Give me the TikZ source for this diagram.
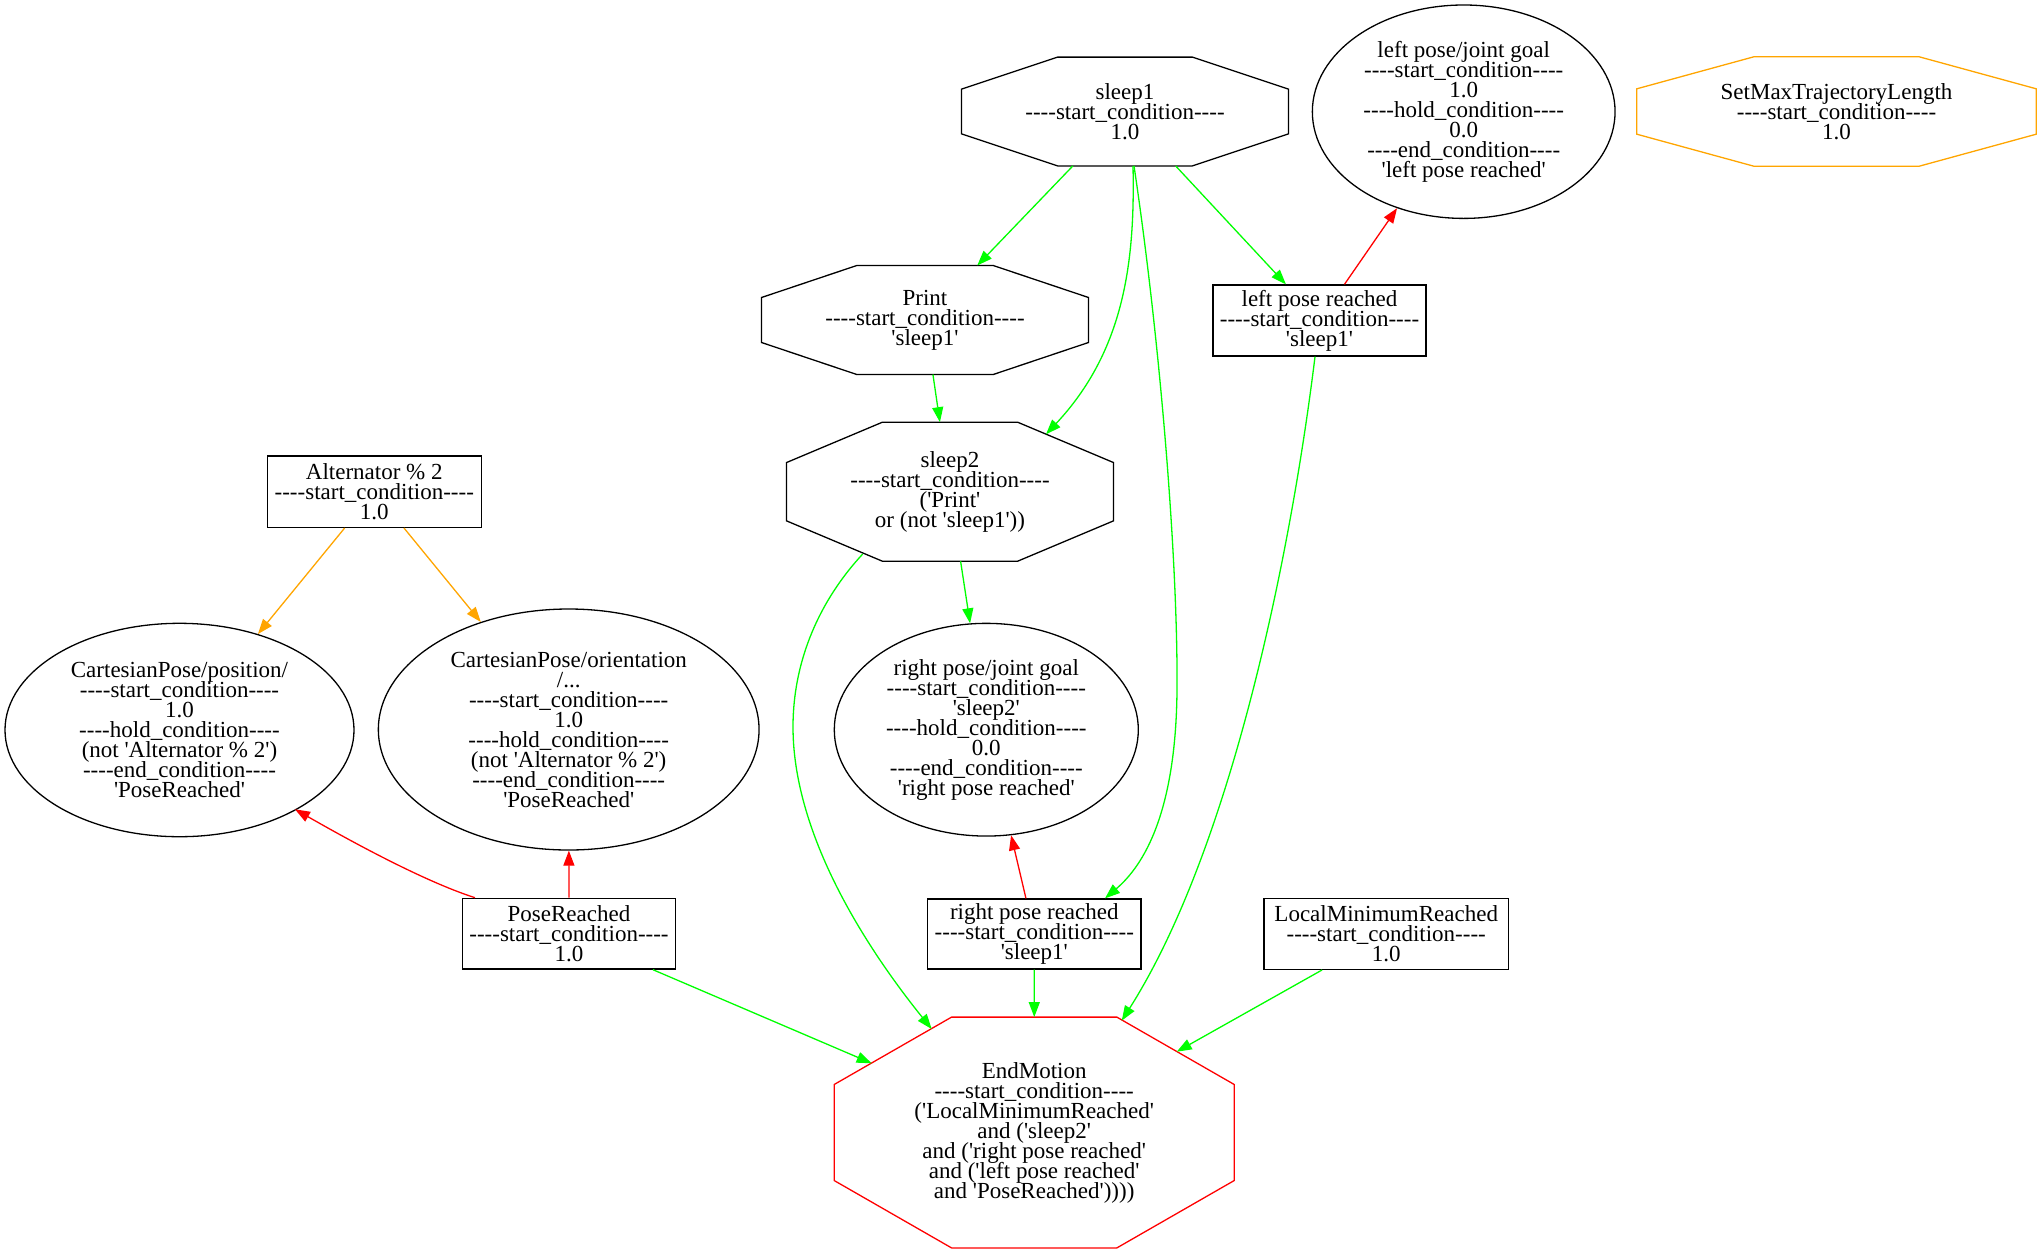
\documentclass[tikz,border=0pt]{standalone}
\usepackage{fontspec}
\setmainfont{Liberation Serif}[Ligatures=TeXOff]
\usetikzlibrary{arrows.meta,calc,shapes.geometric}
\definecolor{gvgreen}{RGB}{0,255,0}
\definecolor{gvred}{RGB}{255,0,0}
\definecolor{gvorange}{RGB}{255,165,0}
\newcommand{\gvfont}{\fontsize{23}{20}\selectfont\lineskiplimit=-100pt\relax}
% octagon outline drawn round a (rectangular) node: name, chamfer x, chamfer y, style
\newcommand{\drawoct}[4]{%
  \draw[#4] ($(#1.north west)+(#2,0)$) -- ($(#1.north east)+(-#2,0)$)
    -- ($(#1.north east)+(0,#3)$) -- ($(#1.south east)+(0,-#3)$)
    -- ($(#1.south east)+(-#2,0)$) -- ($(#1.south west)+(#2,0)$)
    -- ($(#1.south west)+(0,-#3)$) -- ($(#1.north west)+(0,#3)$) -- cycle;}
\begin{document}
\begin{tikzpicture}[x=1pt,y=-1pt,
  every node/.style={font=\gvfont, align=center, inner sep=0pt},
  boxnode/.style={draw, rectangle, line width=1.3pt},
  ellnode/.style={draw, ellipse, line width=1.3pt},
  octnode/.style={rectangle},
  octline/.style={line width=1.3pt, line join=miter},
  edge/.style={line width=1.3pt, -{Triangle[length=15pt,width=11pt]}},
  gr/.style={edge, gvgreen},
  rd/.style={edge, gvred},
  og/.style={edge, gvorange}]
\useasboundingbox (0,0) rectangle (2041,1253);

% ---------- nodes ----------
\node[octnode, minimum width=326.5pt, minimum height=108.4pt] (sleep1) at (1125,111.5)
  {sleep1\\----start\_condition----\\1.0};
\drawoct{sleep1}{96}{32}{octline}

\node[ellnode, minimum width=302.7pt, minimum height=213.4pt] (lgoal) at (1463.7,111.7)
  {left pose/joint goal\\----start\_condition----\\1.0\\----hold\_condition----\\0.0\\----end\_condition----\\'left pose reached'};

\node[octnode, minimum width=399pt, minimum height=109pt] (setmax) at (1836.5,111.5)
  {SetMaxTrajectoryLength\\----start\_condition----\\1.0};
\drawoct{setmax}{117}{32}{octline, gvorange}

\node[octnode, minimum width=326.6pt, minimum height=108.6pt] (print) at (925,320)
  {Print\\----start\_condition----\\'sleep1'};
\drawoct{print}{95.3}{32}{octline}

\node[boxnode, minimum width=213pt, minimum height=71pt] (lpr) at (1319.5,320.5)
  {left pose reached\\----start\_condition----\\'sleep1'};

\node[octnode, minimum width=326.6pt, minimum height=138.7pt] (sleep2) at (950,491.7)
  {sleep2\\----start\_condition----\\('Print'\\or (not 'sleep1'))};
\drawoct{sleep2}{96}{40.4}{octline}

\node[boxnode, minimum width=214pt, minimum height=71.3pt] (alt) at (374.3,491.7)
  {Alternator \% 2\\----start\_condition----\\1.0};

\node[ellnode, minimum width=349pt, minimum height=213.4pt] (cppos) at (179.5,730)
  {CartesianPose/position/\\----start\_condition----\\1.0\\----hold\_condition----\\(not 'Alternator \% 2')\\----end\_condition----\\'PoseReached'};

\node[ellnode, minimum width=380.7pt, minimum height=241pt] (cpori) at (568.7,729.5)
  {CartesianPose/orientation\\/...\\----start\_condition----\\1.0\\----hold\_condition----\\(not 'Alternator \% 2')\\----end\_condition----\\'PoseReached'};

\node[ellnode, minimum width=304pt, minimum height=212.7pt] (rgoal) at (986.3,729.7)
  {right pose/joint goal\\----start\_condition----\\'sleep2'\\----hold\_condition----\\0.0\\----end\_condition----\\'right pose reached'};

\node[boxnode, minimum width=213.3pt, minimum height=70.7pt] (pr) at (569,933.7)
  {PoseReached\\----start\_condition----\\1.0};

\node[boxnode, minimum width=213.3pt, minimum height=70pt] (rpr) at (1034.3,934)
  {right pose reached\\----start\_condition----\\'sleep1'};

\node[boxnode, minimum width=244.3pt, minimum height=71pt] (lmr) at (1386.2,933.8)
  {LocalMinimumReached\\----start\_condition----\\1.0};

\node[octnode, minimum width=399.7pt, minimum height=230.4pt] (endm) at (1034.2,1132.5)
  {EndMotion\\----start\_condition----\\('LocalMinimumReached'\\and ('sleep2'\\and ('right pose reached'\\and ('left pose reached'\\and 'PoseReached'))))};
\drawoct{endm}{117.4}{67.4}{octline, gvred}

% ---------- connectors ----------
\draw[gr] (sleep1) -- (print);
\draw[gr] (sleep1) -- (lpr);
\draw[gr] ($(sleep1.south)+(8,0)$) .. controls (1135,260) and (1125,350) .. ($(sleep2.center)+(96,-57.4)$);
\draw[gr] ($(sleep1.south)+(9,0)$) .. controls (1160,340) and (1178,560) .. (1177,690)
  .. controls (1176,800) and (1150,860) .. ($(rpr.north)+(70.7,0)$);
\draw[rd] (lpr) -- (lgoal);
\draw[gr] (print) -- (sleep2);
\draw[gr] (sleep2) -- (rgoal);
\draw[gr] ($(sleep2.center)+(-87.3,62.3)$) .. controls (820,600) and (793,660) .. (793,727)
  .. controls (793,830) and (860,940) .. ($(endm.center)+(-102.5,-103.5)$);
\draw[rd] (rpr) -- (rgoal);
\draw[gr] (rpr) -- (endm);
\draw[gr] ($(lpr.south)+(-4.5,0)$) .. controls (1290,560) and (1230,850) .. ($(endm.center)+(87.5,-111.8)$);
\draw[gr] (lmr) -- ($(endm.center)+(142.5,-80.8)$);
\draw[gr] (pr) -- ($(endm.center)+(-162.5,-69.2)$);
\draw[og] (alt) -- (cppos);
\draw[og] (alt) -- (cpori);
\draw[rd] (pr) -- (cpori);
\draw[rd] ($(pr.north)+(-94,0)$) .. controls (420,880) and (340,835) .. ($(cppos.center)+(115.5,79.3)$);
\end{tikzpicture}
\end{document}
